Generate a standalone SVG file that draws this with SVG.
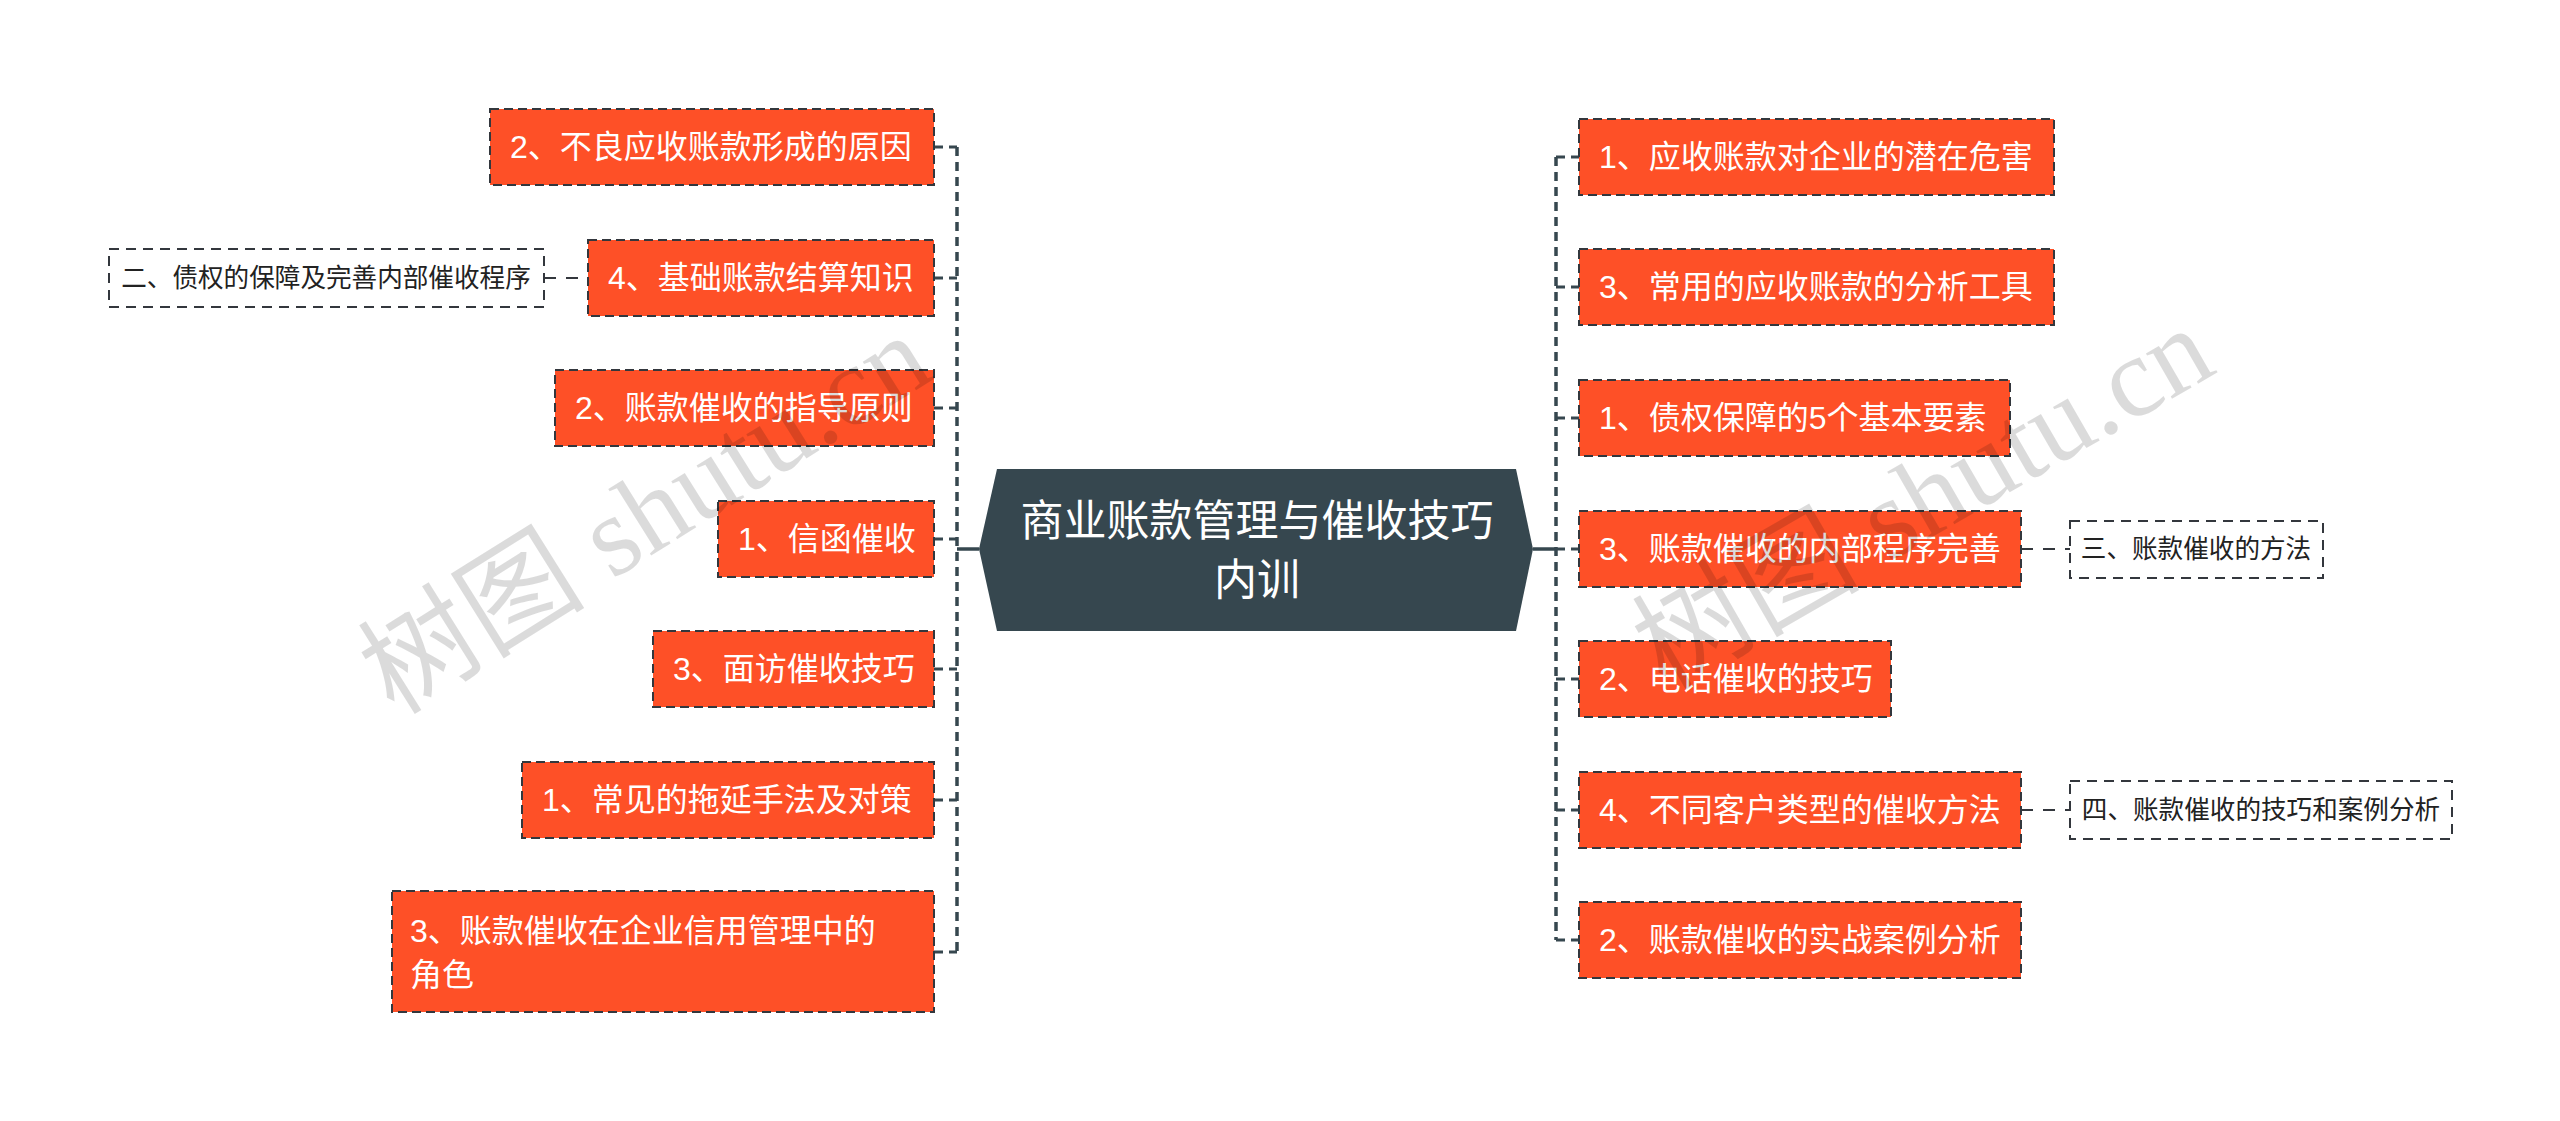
<svg xmlns="http://www.w3.org/2000/svg" width="2560" height="1121" viewBox="0 0 2560 1121">
<style>
.node rect{fill:#FE5027;stroke:#33373d;stroke-width:2;stroke-dasharray:9 5}
.node text{fill:#ffffff;font-family:"Liberation Sans","Noto Sans CJK SC",sans-serif;font-size:32px;dominant-baseline:central}
.sub rect{fill:#ffffff;stroke:#33373d;stroke-width:2;stroke-dasharray:10 7}
.sub text{fill:#222;font-family:"Liberation Sans","Noto Sans CJK SC",sans-serif;font-size:25.6px;dominant-baseline:central;text-anchor:middle}
.spine{fill:none;stroke:#36474F;stroke-width:3.5;stroke-dasharray:9 6}
.branch{fill:none;stroke:#36474F;stroke-width:3;stroke-dasharray:9 6}
.subline{fill:none;stroke:#33373d;stroke-width:2;stroke-dasharray:12 10}
.solid{fill:none;stroke:#36474F;stroke-width:3.5}
.wm{font-family:"Liberation Serif","Noto Sans CJK SC",serif;font-size:114px;fill:#000;fill-opacity:0.14}
</style>
<rect width="2560" height="1121" fill="#ffffff"/>
<g id="connectors">
  <path class="solid" d="M957 549 H979"/>
  <path class="solid" d="M1533 549 H1556"/>
  <path class="spine" d="M957 147 V952"/>
  <path class="spine" d="M1556 157 V940"/>
  <path class="branch" d="M934 147 H957"/>
  <path class="branch" d="M934 278 H957"/>
  <path class="branch" d="M934 408 H957"/>
  <path class="branch" d="M934 539 H957"/>
  <path class="branch" d="M934 669 H957"/>
  <path class="branch" d="M934 800 H957"/>
  <path class="branch" d="M934 952 H957"/>
  <path class="branch" d="M1556 157 H1579"/>
  <path class="branch" d="M1556 287 H1579"/>
  <path class="branch" d="M1556 418 H1579"/>
  <path class="branch" d="M1556 549 H1579"/>
  <path class="branch" d="M1556 679 H1579"/>
  <path class="branch" d="M1556 810 H1579"/>
  <path class="branch" d="M1556 940 H1579"/>
  <path class="subline" d="M544 278 H588"/>
  <path class="subline" d="M2021 549 H2070"/>
  <path class="subline" d="M2021 810 H2070"/>
</g>
<g id="center">
  <polygon points="997,469 1516,469 1533,549 1516,631 997,631 979,549" fill="#36474F"/>
  <text x="1257" y="521" fill="#fff" font-family="'Liberation Sans','Noto Sans CJK SC',sans-serif" font-size="43" text-anchor="middle" dominant-baseline="central">商业账款管理与催收技巧</text>
  <text x="1257" y="580" fill="#fff" font-family="'Liberation Sans','Noto Sans CJK SC',sans-serif" font-size="43" text-anchor="middle" dominant-baseline="central">内训</text>
</g>
<g id="L1" class="node"><rect x="490" y="109" width="444" height="76"/><text x="510" y="147">2、不良应收账款形成的原因</text></g>
<g id="L2" class="node"><rect x="588" y="240" width="346" height="76"/><text x="608" y="278">4、基础账款结算知识</text></g>
<g id="L2a" class="sub"><rect x="109" y="249" width="435" height="58"/><text x="326" y="278">二、债权的保障及完善内部催收程序</text></g>
<g id="L3" class="node"><rect x="555" y="370" width="379" height="76"/><text x="575" y="408">2、账款催收的指导原则</text></g>
<g id="L4" class="node"><rect x="718" y="501" width="216" height="76"/><text x="738" y="539">1、信函催收</text></g>
<g id="L5" class="node"><rect x="653" y="631" width="281" height="76"/><text x="673" y="669">3、面访催收技巧</text></g>
<g id="L6" class="node"><rect x="522" y="762" width="412" height="76"/><text x="542" y="800">1、常见的拖延手法及对策</text></g>
<g id="L7" class="node"><rect x="392" y="891" width="542" height="121"/><text x="410" y="931">3、账款催收在企业信用管理中的</text><text x="410" y="975">角色</text></g>
<g id="R1" class="node"><rect x="1579" y="119" width="475" height="76"/><text x="1599" y="157">1、应收账款对企业的潜在危害</text></g>
<g id="R2" class="node"><rect x="1579" y="249" width="475" height="76"/><text x="1599" y="287">3、常用的应收账款的分析工具</text></g>
<g id="R3" class="node"><rect x="1579" y="380" width="431" height="76"/><text x="1599" y="418">1、债权保障的5个基本要素</text></g>
<g id="R4" class="node"><rect x="1579" y="511" width="442" height="76"/><text x="1599" y="549">3、账款催收的内部程序完善</text></g>
<g id="R4a" class="sub"><rect x="2070" y="521" width="253" height="57"/><text x="2196" y="549">三、账款催收的方法</text></g>
<g id="R5" class="node"><rect x="1579" y="641" width="312" height="76"/><text x="1599" y="679">2、电话催收的技巧</text></g>
<g id="R6" class="node"><rect x="1579" y="772" width="442" height="76"/><text x="1599" y="810">4、不同客户类型的催收方法</text></g>
<g id="R6a" class="sub"><rect x="2070" y="781" width="382" height="58"/><text x="2261" y="810">四、账款催收的技巧和案例分析</text></g>
<g id="R7" class="node"><rect x="1579" y="902" width="442" height="76"/><text x="1599" y="940">2、账款催收的实战案例分析</text></g>
<g id="watermarks">
  <text class="wm" x="645" y="514" text-anchor="middle" dominant-baseline="central" transform="rotate(-32 645 514)">树图 shutu.cn</text>
  <text class="wm" x="1923" y="498" text-anchor="middle" dominant-baseline="central" transform="rotate(-30 1923 498)">树图 shutu.cn</text>
</g>
</svg>
